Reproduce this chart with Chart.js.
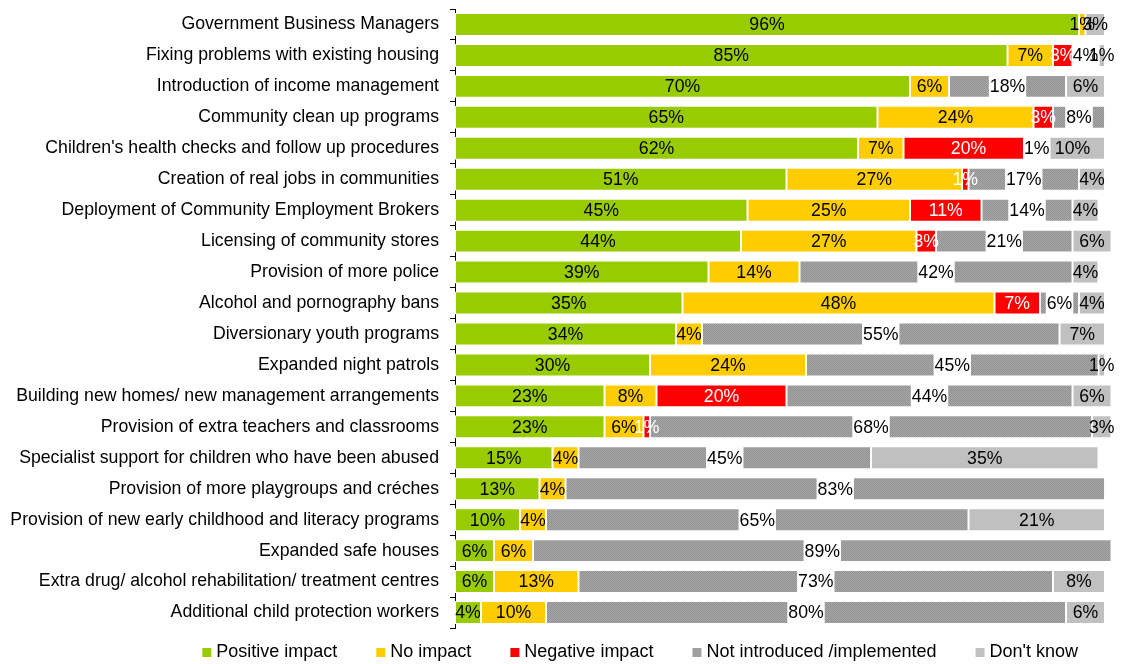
<!DOCTYPE html>
<html>
<head>
<meta charset="utf-8">
<script src="https://cdn.jsdelivr.net/npm/chart.js@4/dist/chart.umd.min.js"></script>
<style>
  html, body { margin: 0; padding: 0; background: #fff; }
  #wrap { width: 1127px; height: 664px; }
</style>
</head>
<body>
<div id="wrap"><canvas id="grafico"></canvas></div>
<script>
const categories = [
  "Government Business Managers",
  "Fixing problems with existing housing",
  "Introduction of income management",
  "Community clean up programs",
  "Children's health checks and follow up procedures",
  "Creation of real jobs in communities",
  "Deployment of Community Employment Brokers",
  "Licensing of community stores",
  "Provision of more police",
  "Alcohol and pornography bans",
  "Diversionary youth programs",
  "Expanded night patrols",
  "Building new homes/ new management arrangements",
  "Provision of extra teachers and classrooms",
  "Specialist support for children who have been abused",
  "Provision of more playgroups and créches",
  "Provision of new early childhood and literacy programs",
  "Expanded safe houses",
  "Extra drug/ alcohol rehabilitation/ treatment centres",
  "Additional child protection workers"
];
const positive      = [96, 85, 70, 65, 62, 51, 45, 44, 39, 35, 34, 30, 23, 23, 15, 13, 10, 6, 6, 4];
const noImpact      = [1, 7, 6, 24, 7, 27, 25, 27, 14, 48, 4, 24, 8, 6, 4, 4, 4, 6, 13, 10];
const negative      = [0, 3, 0, 3, 20, 1, 11, 3, 0, 7, 0, 0, 20, 1, 0, 0, 0, 0, 0, 0];
const notIntroduced = [0, 4, 18, 8, 1, 17, 14, 21, 42, 6, 55, 45, 44, 68, 45, 83, 65, 89, 73, 80];
const dontKnow      = [3, 1, 6, 0, 10, 4, 4, 6, 4, 4, 7, 1, 6, 3, 35, 0, 21, 0, 8, 6];
const seriesNames = ["Positive impact", "No impact", "Negative impact", "Not introduced /implemented", "Don't know"];

const FONT = "'Liberation Sans', Arial, sans-serif";

// dotted grey texture for "not introduced"
function patronGris() {
  const c = document.createElement("canvas");
  c.width = 2; c.height = 2;
  const g = c.getContext("2d");
  g.fillStyle = "#a6a6a6"; g.fillRect(0, 0, 2, 2);
  g.fillStyle = "#939393"; g.fillRect(0, 0, 1, 1); g.fillRect(1, 1, 1, 1);
  return g.createPattern(c, "repeat");
}
const gris = patronGris();
const colores = ["#99cc00", "#ffcc00", "#ff0000", gris, "#c0c0c0"];

// legend marker: blank lead-in then a small square near the text
function marcador(color) {
  const c = document.createElement("canvas");
  c.width = 39; c.height = 9;
  const g = c.getContext("2d");
  g.fillStyle = color;
  g.fillRect(29, 0, 9, 9);
  return c;
}

const etiquetas = {
  id: "etiquetas",
  afterDatasetsDraw(chart) {
    const ctx = chart.ctx;
    ctx.save();
    ctx.font = "17.7px " + FONT;
    ctx.textAlign = "center";
    ctx.textBaseline = "middle";
    chart.data.datasets.forEach((ds, i) => {
      const meta = chart.getDatasetMeta(i);
      meta.data.forEach((bar, j) => {
        const v = ds.data[j];
        if (!v) return;
        const cx = (bar.x + bar.base) / 2;
        const txt = v + "%";
        if (i === 3) {
          const w = ctx.measureText(txt).width;
          ctx.fillStyle = "#fff";
          ctx.fillRect(cx - w / 2 - 1, bar.y - bar.height / 2, w + 2, bar.height);
        }
        ctx.fillStyle = i === 2 ? "#fff" : "#000";
        ctx.fillText(txt, cx, bar.y + 1);
      });
    });
    ctx.restore();
  }
};

const series = [positive, noImpact, negative, notIntroduced, dontKnow];

new Chart(document.getElementById("grafico"), {
  type: "bar",
  data: {
    labels: categories,
    datasets: series.map((d, i) => ({
      label: seriesNames[i],
      data: d,
      backgroundColor: colores[i],
      borderColor: "#ffffff",
      borderWidth: 1,
      borderSkipped: false,
      barPercentage: 0.74,
      categoryPercentage: 1,
      clip: false
    }))
  },
  options: {
    indexAxis: "y",
    responsive: true,
    maintainAspectRatio: false,
    animation: false,
    layout: { padding: { top: 9, bottom: -7, left: 0, right: 34 } },
    scales: {
      x: { stacked: true, min: 0, max: 98.15, display: false },
      y: {
        stacked: true,
        afterFit: (s) => { s.width = 455; s.paddingTop = 0; s.paddingBottom = 0; },
        grid: { drawOnChartArea: false, drawTicks: true, tickLength: 5, offset: true, color: "#000" },
        border: { display: true, color: "#000" },
        ticks: { color: "#000", padding: 11, font: { family: FONT, size: 17.7 }, autoSkip: false }
      }
    },
    plugins: {
      tooltip: { enabled: false },
      legend: {
        position: "bottom",
        align: "end",
        labels: {
          color: "#000",
          font: { family: FONT, size: 18 },
          padding: 15,
          usePointStyle: true,
          pointStyleWidth: 29,
          generateLabels: (chart) => {
            const items = Chart.defaults.plugins.legend.labels.generateLabels(chart);
            const solidos = ["#99cc00", "#ffcc00", "#ff0000", "#a0a0a0", "#c0c0c0"];
            items.forEach((it, i) => { it.pointStyle = marcador(solidos[i]); });
            return items;
          }
        }
      }
    }
  },
  plugins: [etiquetas]
});
</script>
</body>
</html>
